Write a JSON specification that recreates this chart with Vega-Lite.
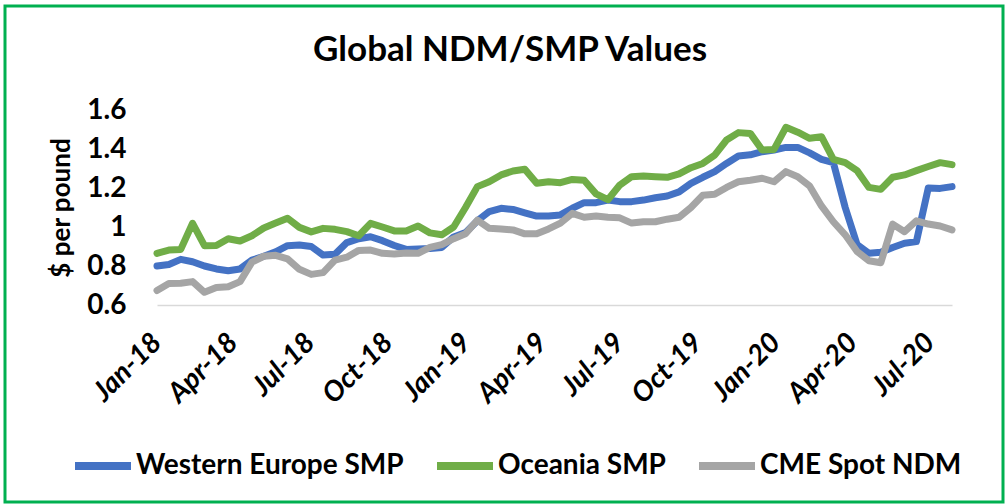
{
  "$schema": "https://vega.github.io/schema/vega-lite/v6.json",
  "autosize": {"type": "none"},
  "padding": {"left": 5, "top": 6, "right": 5, "bottom": 2},
  "width": 998,
  "height": 496,
  "background": "white",
  "title": {
    "text": "Global NDM/SMP Values",
    "font": "Lato",
    "fontSize": 35,
    "fontWeight": "bold",
    "color": "black",
    "anchor": "middle",
    "frame": "group",
    "baseline": "alphabetic",
    "offset": 0,
    "dx": 6,
    "dy": 90
  },
  "data": {
    "values": [
      {"d": "2018-01-01", "Western Europe SMP": 0.800, "Oceania SMP": 0.865, "CME Spot NDM": 0.674},
      {"d": "2018-01-15", "Western Europe SMP": 0.808, "Oceania SMP": 0.882, "CME Spot NDM": 0.710},
      {"d": "2018-01-29", "Western Europe SMP": 0.834, "Oceania SMP": 0.885, "CME Spot NDM": 0.712},
      {"d": "2018-02-12", "Western Europe SMP": 0.822, "Oceania SMP": 1.019, "CME Spot NDM": 0.720},
      {"d": "2018-02-26", "Western Europe SMP": 0.800, "Oceania SMP": 0.904, "CME Spot NDM": 0.665},
      {"d": "2018-03-12", "Western Europe SMP": 0.785, "Oceania SMP": 0.905, "CME Spot NDM": 0.690},
      {"d": "2018-03-26", "Western Europe SMP": 0.776, "Oceania SMP": 0.940, "CME Spot NDM": 0.694},
      {"d": "2018-04-09", "Western Europe SMP": 0.785, "Oceania SMP": 0.928, "CME Spot NDM": 0.720},
      {"d": "2018-04-23", "Western Europe SMP": 0.830, "Oceania SMP": 0.955, "CME Spot NDM": 0.820},
      {"d": "2018-05-07", "Western Europe SMP": 0.850, "Oceania SMP": 0.995, "CME Spot NDM": 0.850},
      {"d": "2018-05-21", "Western Europe SMP": 0.873, "Oceania SMP": 1.020, "CME Spot NDM": 0.855},
      {"d": "2018-06-04", "Western Europe SMP": 0.904, "Oceania SMP": 1.045, "CME Spot NDM": 0.837},
      {"d": "2018-06-18", "Western Europe SMP": 0.908, "Oceania SMP": 0.998, "CME Spot NDM": 0.783},
      {"d": "2018-07-02", "Western Europe SMP": 0.900, "Oceania SMP": 0.975, "CME Spot NDM": 0.757},
      {"d": "2018-07-16", "Western Europe SMP": 0.856, "Oceania SMP": 0.993, "CME Spot NDM": 0.766},
      {"d": "2018-07-30", "Western Europe SMP": 0.860, "Oceania SMP": 0.988, "CME Spot NDM": 0.830},
      {"d": "2018-08-13", "Western Europe SMP": 0.920, "Oceania SMP": 0.976, "CME Spot NDM": 0.845},
      {"d": "2018-08-27", "Western Europe SMP": 0.940, "Oceania SMP": 0.955, "CME Spot NDM": 0.880},
      {"d": "2018-09-10", "Western Europe SMP": 0.950, "Oceania SMP": 1.019, "CME Spot NDM": 0.882},
      {"d": "2018-09-24", "Western Europe SMP": 0.930, "Oceania SMP": 1.000, "CME Spot NDM": 0.865},
      {"d": "2018-10-08", "Western Europe SMP": 0.905, "Oceania SMP": 0.980, "CME Spot NDM": 0.862},
      {"d": "2018-10-22", "Western Europe SMP": 0.885, "Oceania SMP": 0.980, "CME Spot NDM": 0.867},
      {"d": "2018-11-05", "Western Europe SMP": 0.887, "Oceania SMP": 1.005, "CME Spot NDM": 0.865},
      {"d": "2018-11-19", "Western Europe SMP": 0.890, "Oceania SMP": 0.970, "CME Spot NDM": 0.895},
      {"d": "2018-12-03", "Western Europe SMP": 0.895, "Oceania SMP": 0.960, "CME Spot NDM": 0.910},
      {"d": "2018-12-17", "Western Europe SMP": 0.949, "Oceania SMP": 1.000, "CME Spot NDM": 0.940},
      {"d": "2018-12-31", "Western Europe SMP": 0.971, "Oceania SMP": 1.100, "CME Spot NDM": 0.965},
      {"d": "2019-01-14", "Western Europe SMP": 1.032, "Oceania SMP": 1.207, "CME Spot NDM": 1.035},
      {"d": "2019-01-28", "Western Europe SMP": 1.079, "Oceania SMP": 1.232, "CME Spot NDM": 0.993},
      {"d": "2019-02-11", "Western Europe SMP": 1.096, "Oceania SMP": 1.267, "CME Spot NDM": 0.990},
      {"d": "2019-02-25", "Western Europe SMP": 1.090, "Oceania SMP": 1.287, "CME Spot NDM": 0.985},
      {"d": "2019-03-11", "Western Europe SMP": 1.073, "Oceania SMP": 1.296, "CME Spot NDM": 0.965},
      {"d": "2019-03-25", "Western Europe SMP": 1.056, "Oceania SMP": 1.224, "CME Spot NDM": 0.965},
      {"d": "2019-04-08", "Western Europe SMP": 1.056, "Oceania SMP": 1.232, "CME Spot NDM": 0.990},
      {"d": "2019-04-22", "Western Europe SMP": 1.062, "Oceania SMP": 1.227, "CME Spot NDM": 1.020},
      {"d": "2019-05-06", "Western Europe SMP": 1.096, "Oceania SMP": 1.244, "CME Spot NDM": 1.070},
      {"d": "2019-05-20", "Western Europe SMP": 1.125, "Oceania SMP": 1.240, "CME Spot NDM": 1.050},
      {"d": "2019-06-03", "Western Europe SMP": 1.125, "Oceania SMP": 1.170, "CME Spot NDM": 1.056},
      {"d": "2019-06-17", "Western Europe SMP": 1.138, "Oceania SMP": 1.140, "CME Spot NDM": 1.050},
      {"d": "2019-07-01", "Western Europe SMP": 1.130, "Oceania SMP": 1.215, "CME Spot NDM": 1.047},
      {"d": "2019-07-15", "Western Europe SMP": 1.130, "Oceania SMP": 1.258, "CME Spot NDM": 1.020},
      {"d": "2019-07-29", "Western Europe SMP": 1.138, "Oceania SMP": 1.262, "CME Spot NDM": 1.027},
      {"d": "2019-08-12", "Western Europe SMP": 1.150, "Oceania SMP": 1.258, "CME Spot NDM": 1.027},
      {"d": "2019-08-26", "Western Europe SMP": 1.159, "Oceania SMP": 1.255, "CME Spot NDM": 1.040},
      {"d": "2019-09-09", "Western Europe SMP": 1.180, "Oceania SMP": 1.272, "CME Spot NDM": 1.050},
      {"d": "2019-09-23", "Western Europe SMP": 1.224, "Oceania SMP": 1.304, "CME Spot NDM": 1.100},
      {"d": "2019-10-07", "Western Europe SMP": 1.255, "Oceania SMP": 1.326, "CME Spot NDM": 1.163},
      {"d": "2019-10-21", "Western Europe SMP": 1.284, "Oceania SMP": 1.369, "CME Spot NDM": 1.168},
      {"d": "2019-11-04", "Western Europe SMP": 1.326, "Oceania SMP": 1.446, "CME Spot NDM": 1.203},
      {"d": "2019-11-18", "Western Europe SMP": 1.364, "Oceania SMP": 1.484, "CME Spot NDM": 1.232},
      {"d": "2019-12-02", "Western Europe SMP": 1.370, "Oceania SMP": 1.480, "CME Spot NDM": 1.240},
      {"d": "2019-12-16", "Western Europe SMP": 1.386, "Oceania SMP": 1.395, "CME Spot NDM": 1.250},
      {"d": "2019-12-30", "Western Europe SMP": 1.395, "Oceania SMP": 1.398, "CME Spot NDM": 1.232},
      {"d": "2020-01-13", "Western Europe SMP": 1.408, "Oceania SMP": 1.511, "CME Spot NDM": 1.284},
      {"d": "2020-01-27", "Western Europe SMP": 1.408, "Oceania SMP": 1.486, "CME Spot NDM": 1.258},
      {"d": "2020-02-10", "Western Europe SMP": 1.380, "Oceania SMP": 1.455, "CME Spot NDM": 1.210},
      {"d": "2020-02-24", "Western Europe SMP": 1.347, "Oceania SMP": 1.463, "CME Spot NDM": 1.108},
      {"d": "2020-03-09", "Western Europe SMP": 1.330, "Oceania SMP": 1.347, "CME Spot NDM": 1.027},
      {"d": "2020-03-23", "Western Europe SMP": 1.100, "Oceania SMP": 1.330, "CME Spot NDM": 0.960},
      {"d": "2020-04-06", "Western Europe SMP": 0.910, "Oceania SMP": 1.289, "CME Spot NDM": 0.874},
      {"d": "2020-04-20", "Western Europe SMP": 0.865, "Oceania SMP": 1.203, "CME Spot NDM": 0.827},
      {"d": "2020-05-04", "Western Europe SMP": 0.870, "Oceania SMP": 1.193, "CME Spot NDM": 0.817},
      {"d": "2020-05-18", "Western Europe SMP": 0.895, "Oceania SMP": 1.255, "CME Spot NDM": 1.015},
      {"d": "2020-06-01", "Western Europe SMP": 0.917, "Oceania SMP": 1.267, "CME Spot NDM": 0.976},
      {"d": "2020-06-15", "Western Europe SMP": 0.925, "Oceania SMP": 1.289, "CME Spot NDM": 1.032},
      {"d": "2020-06-29", "Western Europe SMP": 1.200, "Oceania SMP": 1.310, "CME Spot NDM": 1.015},
      {"d": "2020-07-13", "Western Europe SMP": 1.198, "Oceania SMP": 1.330, "CME Spot NDM": 1.005},
      {"d": "2020-07-27", "Western Europe SMP": 1.207, "Oceania SMP": 1.320, "CME Spot NDM": 0.985}
    ]
  },
  "transform": [
    {"fold": ["Western Europe SMP", "Oceania SMP", "CME Spot NDM"], "as": ["series", "value"]}
  ],
  "mark": {"type": "line", "strokeWidth": 7, "strokeJoin": "round", "strokeCap": "round", "clip": false},
  "encoding": {
    "x": {
      "field": "d",
      "type": "temporal",
      "scale": {"nice": false, "range": [152, 947]},
      "axis": {
        "orient": "bottom",
        "offset": -197,
        "title": null,
        "format": "%b-%y",
        "tickCount": {"interval": "month", "step": 3},
        "grid": false,
        "ticks": false,
        "domain": true,
        "domainColor": "#D9D9D9",
        "domainWidth": 1.5,
        "labelAngle": -45,
        "labelAlign": "right",
        "labelBaseline": "middle",
        "labelPadding": 33,
        "labelFont": "Lato",
        "labelFontSize": 28,
        "labelFontWeight": "bold",
        "labelFontStyle": "italic",
        "labelColor": "black",
        "labelOverlap": false,
        "labelFlush": false
      }
    },
    "y": {
      "field": "value",
      "type": "quantitative",
      "scale": {"domain": [0.6, 1.6], "range": [299, 104], "nice": false, "zero": false},
      "axis": {
        "orient": "left",
        "offset": -152,
        "values": [0.6, 0.8, 1, 1.2, 1.4, 1.6],
        "format": "~g",
        "grid": false,
        "ticks": false,
        "domain": false,
        "labelPadding": 31,
        "labelFont": "Lato",
        "labelFontSize": 28,
        "labelFontWeight": "bold",
        "labelColor": "black",
        "title": "$ per pound",
        "titleFont": "Lato",
        "titleFontSize": 26,
        "titleFontWeight": "bold",
        "titleColor": "black",
        "titlePadding": 12
      }
    },
    "color": {
      "field": "series",
      "type": "nominal",
      "scale": {
        "domain": ["Western Europe SMP", "Oceania SMP", "CME Spot NDM"],
        "range": ["#4472C4", "#70AD47", "#A5A5A5"]
      },
      "legend": {
        "title": null,
        "orient": "none",
        "direction": "horizontal",
        "legendX": 66,
        "legendY": 428,
        "symbolType": "stroke",
        "symbolSize": 3136,
        "symbolStrokeWidth": 8,
        "labelFont": "Lato",
        "labelFontSize": 28,
        "labelFontWeight": "bold",
        "labelColor": "black",
        "labelOffset": 1,
        "labelLimit": 500,
        "columnPadding": 17,
        "padding": 0
      }
    }
  },
  "config": {
    "view": {"stroke": "#00B050", "strokeWidth": 3, "fill": "white"}
  }
}
